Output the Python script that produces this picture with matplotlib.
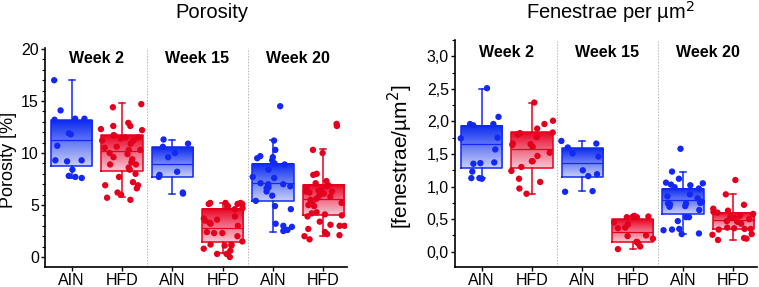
import numpy as np
import matplotlib
matplotlib.use("Agg")
import matplotlib.pyplot as plt
from matplotlib.colors import LinearSegmentedColormap
from matplotlib.ticker import MultipleLocator, FuncFormatter

plt.rcParams['font.family'] = ['Liberation Sans', 'DejaVu Sans']

GROUPS = ["AIN", "HFD", "AIN", "HFD", "AIN", "HFD"]
WEEKS = ["Week 2", "Week 15", "Week 20"]

# Porosity [%] -- points per group
por_pts = [
    [17.0, 14.1, 13.3, 13.3, 13.2, 11.9, 11.8, 10.7, 9.3, 9.3, 9.2, 8.4, 7.8, 7.7, 7.6],
    [14.7, 14.4, 12.9, 12.6, 12.6, 12.3, 12.2, 11.7, 11.7, 11.5, 11.5, 11.4, 11.2, 11.2,
     10.9, 10.6, 10.5, 10.3, 10.3, 10.0, 9.9, 9.6, 9.4, 9.1, 8.9, 8.9, 8.6, 8.4, 8.0,
     7.7, 7.2, 6.9, 6.9, 6.6, 6.2, 6.0, 5.7, 5.5],
    [11.3, 10.9, 10.6, 10.0, 9.6, 8.2, 7.9, 7.7, 6.2, 6.1],
    [5.2, 5.2, 5.2, 5.1, 5.1, 5.1, 4.9, 4.8, 4.7, 4.6, 3.9, 3.7, 3.6, 3.5, 3.3, 3.2,
     3.0, 2.4, 2.3, 2.3, 2.0, 1.5, 1.2, 1.2, 1.1, 1.1, 0.8, 0.6, 0.3, 0.3, 0.0],
    [14.5, 11.2, 10.3, 9.7, 9.6, 9.5, 9.3, 9.0, 8.9, 8.4, 7.7, 7.6, 7.1, 7.0, 7.0, 6.9,
     6.8, 6.7, 6.6, 6.3, 5.9, 5.4, 4.9, 4.6, 3.2, 3.0, 2.9, 2.6, 2.5],
    [12.8, 12.6, 10.3, 10.0, 8.0, 7.9, 7.3, 7.1, 6.9, 6.8, 6.6, 6.5, 6.4, 6.3, 6.3, 6.2,
     6.1, 5.9, 5.8, 5.6, 5.5, 5.2, 5.1, 5.0, 4.9, 4.3, 4.2, 4.1, 4.0, 3.9, 3.4, 3.1,
     3.0, 3.0, 2.7, 2.4, 2.1, 2.0, 2.2, 1.7],
]
por_q1 = [8.75, 8.3, 7.7, 1.4, 5.35, 4.04]
por_med = [11.25, 10.2, 8.97, 2.82, 7.08, 5.54]
por_q3 = [13.17, 11.73, 10.55, 4.62, 8.94, 6.95]
por_wlo = [7.6, 5.8, 6.06, 0.35, 2.44, 2.05]
por_whi = [17.0, 14.78, 11.3, 5.2, 11.3, 10.35]

# Fenestrae per um^2
fen_pts = [
    [2.51, 2.07, 1.96, 1.96, 1.94, 1.75, 1.74, 1.57, 1.37, 1.36, 1.35, 1.23, 1.13, 1.13, 1.12],
    [2.29, 2.01, 1.96, 1.89, 1.83, 1.82, 1.80, 1.76, 1.66, 1.64, 1.61, 1.65, 1.52, 1.47,
     1.39, 1.39, 1.30, 1.24, 1.12, 1.07, 0.97, 0.89],
    [1.70, 1.66, 1.60, 1.51, 1.46, 1.25, 1.19, 1.16, 0.93, 0.92],
    [0.55, 0.54, 0.54, 0.53, 0.53, 0.45, 0.42, 0.37, 0.36, 0.25, 0.24, 0.20, 0.15, 0.15,
     0.12, 0.08, 0.04],
    [1.58, 1.23, 1.12, 1.06, 1.05, 1.03, 1.02, 0.99, 0.97, 0.88, 0.85, 0.82, 0.76, 0.75,
     0.74, 0.74, 0.73, 0.77, 0.70, 0.69, 0.64, 0.53, 0.53, 0.47, 0.35, 0.34, 0.33, 0.28, 0.27],
    [1.10, 0.88, 0.72, 0.66, 0.63, 0.61, 0.60, 0.58, 0.55, 0.53, 0.52, 0.50, 0.47, 0.46,
     0.43, 0.37, 0.36, 0.35, 0.35, 0.34, 0.27, 0.26, 0.21, 0.20, 0.18],
]
fen_q1 = [1.28, 1.29, 1.15, 0.144, 0.578, 0.343]
fen_med = [1.65, 1.57, 1.355, 0.297, 0.79, 0.48]
fen_q3 = [1.93, 1.83, 1.585, 0.497, 0.97, 0.60]
fen_wlo = [1.135, 0.89, 0.93, 0.036, 0.27, 0.18]
fen_whi = [2.5, 2.28, 1.70, 0.55, 1.23, 0.885]

BLUE = "#1428f5"
RED = "#e4001c"
cmap_blue = LinearSegmentedColormap.from_list("b", ["#c9cff6", "#6a7ef4", "#0a2af2"])
cmap_red = LinearSegmentedColormap.from_list("r", ["#f8c6d4", "#f06a84", "#e8021f"])
HALF = 0.41


def draw_panel(ax, pts, q1, med, q3, wlo, whi, ylim, week_y, seed):
    rng = np.random.default_rng(seed)
    grad = np.linspace(0, 1, 256).reshape(-1, 1)
    for i in range(6):
        col = BLUE if i % 2 == 0 else RED
        cm = cmap_blue if i % 2 == 0 else cmap_red
        ax.imshow(grad, extent=(i - HALF, i + HALF, q1[i], q3[i]), origin="lower",
                  cmap=cm, aspect="auto", zorder=1, interpolation="bilinear")
        stats = [dict(q1=q1[i], med=med[i], q3=q3[i], whislo=wlo[i], whishi=whi[i])]
        lp = dict(color=col, linewidth=1.1)
        ax.bxp(stats, positions=[i], widths=2 * HALF, capwidths=0.12, showfliers=False,
               boxprops=lp, medianprops=dict(color=col, linewidth=0.9),
               whiskerprops=lp, capprops=lp, manage_ticks=False, zorder=2)
        y = np.array(pts[i])
        x = i + rng.uniform(-0.42, 0.42, len(y))
        ax.scatter(x, y, s=21, color=col, edgecolors="none", zorder=3)
    for xs in (1.5, 3.5):
        ax.axvline(xs, color="#b8b8b8", linewidth=0.7, linestyle=(0, (1.5, 1.5)), zorder=0)
    for k, w in enumerate(WEEKS):
        ax.text(2 * k + 0.5, week_y, w, transform=ax.get_xaxis_transform(),
                ha="center", va="center", fontsize=11.5, fontweight="bold")
    ax.set_xlim(-0.53, 5.47)
    ax.set_ylim(*ylim)
    ax.set_xticks(range(6))
    ax.set_xticklabels(GROUPS)
    for s in ("top", "right"):
        ax.spines[s].set_visible(False)
    for s in ("left", "bottom"):
        ax.spines[s].set_linewidth(1.2)
    ax.tick_params(axis="both", which="major", length=3, width=1, pad=1.5, labelsize=11.5)
    ax.tick_params(axis="y", which="minor", length=2, width=0.8)
    ax.tick_params(axis="x", labelsize=11.5, pad=1)


fig = plt.figure(figsize=(7.59, 2.87), dpi=100)
ax1 = fig.add_axes([0.0593, 0.0697, 0.3979, 0.7631])
ax2 = fig.add_axes([0.5995, 0.0697, 0.3979, 0.7909])

draw_panel(ax1, por_pts, por_q1, por_med, por_q3, por_wlo, por_whi, (-0.96, 20.1), 0.95, 3)
ax1.yaxis.set_major_locator(MultipleLocator(5))
ax1.yaxis.set_minor_locator(MultipleLocator(1))
ax1.set_ylabel("Porosity [%]", fontsize=13)
ax1.yaxis.set_label_coords(-0.093, 0.49)

draw_panel(ax2, fen_pts, fen_q1, fen_med, fen_q3, fen_wlo, fen_whi, (-0.235, 3.25), 0.947, 7)
ax2.yaxis.set_major_locator(MultipleLocator(0.5))
ax2.yaxis.set_minor_locator(MultipleLocator(0.25))
ax2.yaxis.set_major_formatter(FuncFormatter(lambda v, p: f"{v:.1f}".replace(".", ",")))
ax2.set_ylabel("[fenestrae/µm$^2$]", fontsize=15)
ax2.yaxis.set_label_coords(-0.132, 0.485)

fig.text(0.279, 0.958, "Porosity", ha="center", va="center", fontsize=14.5)
fig.text(0.804, 0.958, "Fenestrae per µm$^2$", ha="center", va="center", fontsize=14.5)

fig.savefig("out.png", dpi=100)
